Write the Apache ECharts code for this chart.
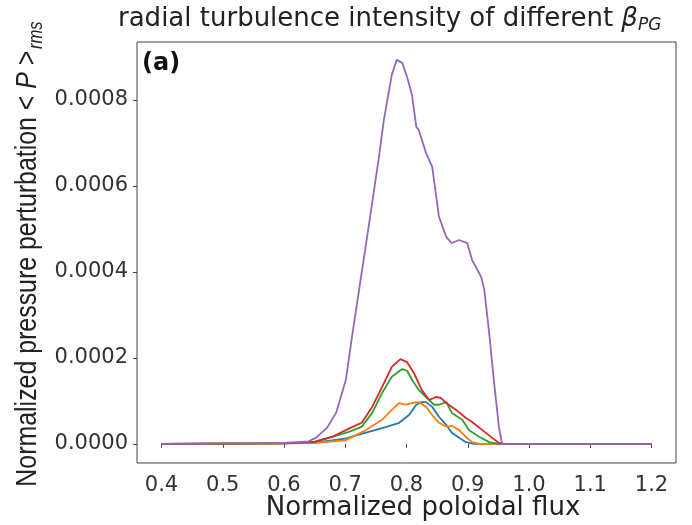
<!DOCTYPE html>
<html>
<head>
<meta charset="utf-8">
<script src="https://cdn.jsdelivr.net/npm/echarts@6/dist/echarts.min.js"></script>
<style>html,body{margin:0;padding:0;background:#fff}#c{width:692px;height:525px}</style>
</head>
<body>
<div id="c"></div>
<script>
// x tick labels / y tick labels
const xTicks = [0.4, 0.5, 0.6, 0.7, 0.8, 0.9, 1.0, 1.1, 1.2];
const yTicks = [0, 0.0002, 0.0004, 0.0006, 0.0008];

// series values: [normalized poloidal flux, normalized pressure perturbation]
const blueData = [[0.4,0],[0.6,1e-6],[0.65,3e-6],[0.70,1.2e-5],[0.734,2.6e-5],[0.766,3.9e-5],[0.788,4.9e-5],[0.804,6.7e-5],[0.816,9.1e-5],[0.824,9.7e-5],[0.832,9.7e-5],[0.842,8.6e-5],[0.853,6.3e-5],[0.865,4.4e-5],[0.874,2.6e-5],[0.886,1.4e-5],[0.897,4e-6],[0.91,0],[1.2,0]];
const orangeData = [[0.4,0],[0.6,1e-6],[0.65,2e-6],[0.70,8e-6],[0.734,3.2e-5],[0.760,5.6e-5],[0.776,7.9e-5],[0.788,9.5e-5],[0.799,9.1e-5],[0.809,9.5e-5],[0.820,9.7e-5],[0.832,8.6e-5],[0.842,6.7e-5],[0.853,4.9e-5],[0.865,4.0e-5],[0.874,4.2e-5],[0.886,3.2e-5],[0.897,1.6e-5],[0.907,4e-6],[0.92,0],[1.2,0]];
const greenData = [[0.4,0],[0.6,1e-6],[0.65,4e-6],[0.706,2.8e-5],[0.727,4.0e-5],[0.744,7.2e-5],[0.760,1.18e-4],[0.776,1.56e-4],[0.793,1.74e-4],[0.801,1.70e-4],[0.809,1.49e-4],[0.820,1.25e-4],[0.832,1.09e-4],[0.845,9.1e-5],[0.853,9.1e-5],[0.865,9.7e-5],[0.874,7.2e-5],[0.891,5.6e-5],[0.902,3.2e-5],[0.919,1.6e-5],[0.935,4e-6],[0.95,0],[1.2,0]];
const redData = [[0.4,0],[0.6,1e-6],[0.65,5e-6],[0.678,1.6e-5],[0.711,3.9e-5],[0.727,4.9e-5],[0.744,8.6e-5],[0.760,1.32e-4],[0.776,1.79e-4],[0.790,1.97e-4],[0.801,1.90e-4],[0.812,1.65e-4],[0.825,1.25e-4],[0.837,1.02e-4],[0.848,1.09e-4],[0.856,1.07e-4],[0.865,9.5e-5],[0.881,7.9e-5],[0.897,6.0e-5],[0.907,5.1e-5],[0.924,3.2e-5],[0.940,1.4e-5],[0.951,2e-6],[0.96,0],[1.2,0]];
const purpleData = [[0.4,0],[0.6,2e-6],[0.64,6e-6],[0.652,1.4e-5],[0.670,3.7e-5],[0.685,7.2e-5],[0.701,1.49e-4],[0.711,2.49e-4],[0.739,5.13e-4],[0.755,6.67e-4],[0.763,7.53e-4],[0.776,8.58e-4],[0.784,8.93e-4],[0.793,8.86e-4],[0.801,8.53e-4],[0.809,8.11e-4],[0.816,7.37e-4],[0.820,7.30e-4],[0.832,6.76e-4],[0.842,6.44e-4],[0.853,5.28e-4],[0.865,4.81e-4],[0.874,4.67e-4],[0.886,4.74e-4],[0.899,4.67e-4],[0.907,4.28e-4],[0.922,3.88e-4],[0.927,3.58e-4],[0.935,2.58e-4],[0.943,1.42e-4],[0.951,3.9e-5],[0.956,0],[1.2,0]];

const chart = echarts.init(document.getElementById('c'), null, {renderer: 'canvas'});
const font = 'DejaVu Sans';
function line(data, color) {
  return {type: 'line', data: data, showSymbol: false, symbol: 'none',
    lineStyle: {color: color, width: 1.8}, itemStyle: {color: color}, animation: false};
}
chart.setOption({
  animation: false,
  grid: {left: 137, top: 42, right: 16, bottom: 62, show: true, borderColor: '#444', borderWidth: 1, backgroundColor: 'transparent'},
  xAxis: {
    type: 'value', min: 0.36, max: 1.24,
    axisLine: {show: false},
    splitLine: {show: false},
    axisTick: {show: true, inside: false, length: 4, lineStyle: {color: '#444'}, customValues: xTicks},
    axisLabel: {customValues: xTicks, margin: 12, color: '#333', fontFamily: font, fontSize: 21,
      formatter: v => v.toFixed(1)}
  },
  yAxis: {
    type: 'value', min: -0.0000445, max: 0.0009345,
    axisLine: {show: false},
    splitLine: {show: false},
    axisTick: {show: true, inside: false, length: 4, lineStyle: {color: '#444'}, customValues: yTicks},
    axisLabel: {customValues: yTicks, margin: 9, color: '#333', fontFamily: font, fontSize: 21,
      formatter: v => v.toFixed(4)}
  },
  series: [
    line(blueData, '#1f77b4'),
    line(orangeData, '#ff7f0e'),
    line(greenData, '#2ca02c'),
    line(redData, '#d62728'),
    line(purpleData, '#9467bd')
  ],
  graphic: [
    {type: 'text', left: 118, top: 6, style: {
      text: '{n|radial turbulence intensity of different }{b|β}{s|PG}',
      rich: {
        n: {fontFamily: font, fontSize: 26, fill: '#222'},
        b: {fontFamily: font, fontSize: 26, fontStyle: 'italic', fill: '#222'},
        s: {fontFamily: font, fontSize: 17, fontStyle: 'italic', fill: '#222', padding: [14, 0, 0, 0]}
      }}},
    {type: 'text', x: 423, y: 508, style: {
      text: 'Normalized poloidal flux', fontFamily: font, fontSize: 26, fill: '#222',
      align: 'center', verticalAlign: 'middle'}},
    {type: 'text', left: 142, top: 52, style: {
      text: '(a)', fontFamily: font, fontSize: 24, fontWeight: 'bold', fill: '#111'}},
    {type: 'text', x: 28, y: 254, rotation: Math.PI / 2, scaleX: 0.83, style: {
      text: '{n|Normalized pressure perturbation < }{i|P}{n| >}{s|rms}',
      align: 'center', verticalAlign: 'middle',
      rich: {
        n: {fontFamily: 'Liberation Sans', fontSize: 30, fill: '#222'},
        i: {fontFamily: 'Liberation Sans', fontSize: 30, fontStyle: 'italic', fill: '#222'},
        s: {fontFamily: 'Liberation Sans', fontSize: 20, fontStyle: 'italic', fill: '#222', padding: [16, 0, 0, 2]}
      }}}
  ]
});
</script>
</body>
</html>
